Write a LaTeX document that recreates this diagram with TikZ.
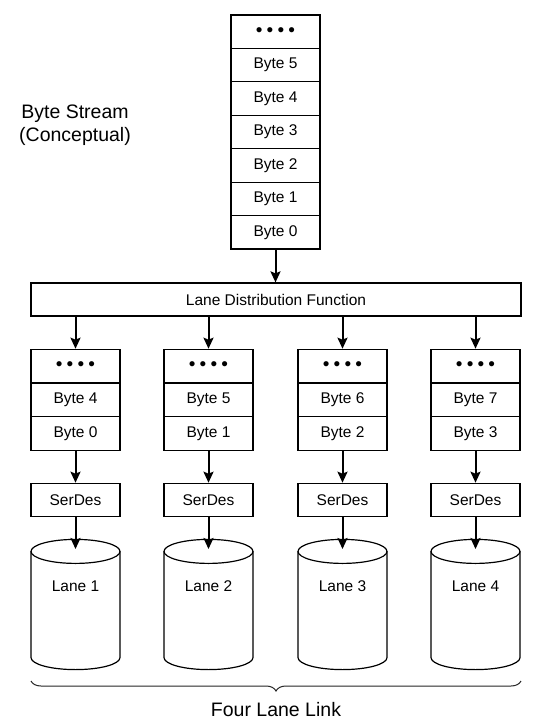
\documentclass[tikz,border=0pt]{standalone}
\usepackage{fontspec}
\setmainfont{Liberation Sans}
\usetikzlibrary{arrows.meta,decorations.pathreplacing}
\newcommand\bdots{{\fontsize{19}{19}\selectfont •\hspace{4.2pt}•\hspace{4.2pt}•\hspace{4.2pt}•}}
\begin{document}
\begin{tikzpicture}[x=1pt,y=-1pt,
  cell/.style={draw,line width=1.2pt,minimum width=89pt,minimum height=33.5pt,inner sep=0pt,font=\fontsize{15.5}{18}\selectfont},
  wide/.style={cell,minimum width=490pt,minimum height=33pt},
  conn/.style={line width=2pt,-{Stealth[length=11pt,width=10pt,inset=2pt]}},
  big/.style={font=\fontsize{19.5}{22.7}\selectfont,align=center,inner sep=0pt},
  lbl/.style={font=\fontsize{15.5}{18}\selectfont,inner sep=0pt},
  cyl/.style={line width=1.2pt},
  bracestyle/.style={line width=1pt,draw=black!85,decorate,decoration={brace,mirror,amplitude=10pt}}
]
\useasboundingbox (0,0) rectangle (552,723);
\fill[white] (0,0) rectangle (552,723);

% Left label
\node[big] (title) at (75,125) {Byte Stream\\(Conceptual)};

% Top stack
\node[cell] (t0) at (275.5,31.7) {\bdots};
\node[cell] (t1) at (275.5,65.1) {Byte 5};
\node[cell] (t2) at (275.5,98.6) {Byte 4};
\node[cell] (t3) at (275.5,132.0) {Byte 3};
\node[cell] (t4) at (275.5,165.4) {Byte 2};
\node[cell] (t5) at (275.5,198.9) {Byte 1};
\node[cell] (t6) at (275.5,232.3) {Byte 0};

% Lane distribution function
\node[wide] (ldf) at (276,299.5) {Lane Distribution Function};
\draw[conn] (t6.south) -- (t6.south |- ldf.north);

% Lanes
\foreach \i/\cx/\hi/\lo in {1/75.5/4/0, 2/208.5/5/1, 3/342.5/6/2, 4/475.5/7/3}{
  \node[cell,minimum height=33.7pt] (d\i) at (\cx,366.15) {\bdots};
  \node[cell,minimum height=33.7pt] (h\i) at (\cx,399.85) {Byte \hi};
  \node[cell,minimum height=33.7pt] (b\i) at (\cx,433.5) {Byte \lo};
  \node[cell,minimum height=33.4pt] (s\i) at (\cx,500) {SerDes};
  % cylinder
  \draw[cyl,fill=white] (\cx-44.5,551.4) -- (\cx-44.5,657.6)
     arc[start angle=180,end angle=360,x radius=44.5pt,y radius=12pt]
     -- (\cx+44.5,551.4);
  \draw[cyl] (\cx,551.4) ellipse [x radius=44.5pt,y radius=12pt];
  \node[lbl] (lane\i) at (\cx,586) {Lane \i};
  \coordinate (c\i) at (\cx,549);
  \draw[conn] (d\i.north |- ldf.south) -- (d\i.north);
  \draw[conn] (b\i.south) -- (s\i.north);
  \draw[conn] (s\i.south) -- (c\i);
}

% Brace
\coordinate (bl) at (31,681);
\coordinate (br) at (521,681);
\draw[bracestyle] (bl) -- (br);
\node[big] (link) at (276,710) {Four Lane Link};
\end{tikzpicture}
\end{document}
